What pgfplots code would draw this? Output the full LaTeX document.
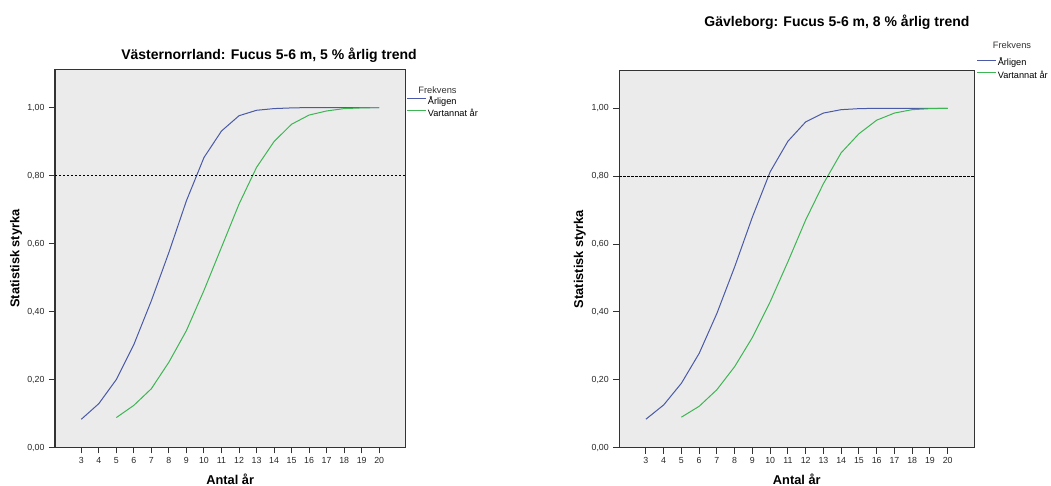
\documentclass[border=0pt]{standalone}
\usepackage{fontspec}
\setmainfont{Liberation Sans}
\usepackage{pgfplots}
\pgfplotsset{compat=1.18}

\definecolor{arlig}{HTML}{4A5AA8}
\definecolor{vartannat}{HTML}{3DB653}
\definecolor{plotbg}{HTML}{EBEBEB}
\definecolor{axisline}{HTML}{333333}

% Statistical power curves: Årligen (yearly) vs Vartannat år (every other year)
\pgfplotstableread{
n  arlig
3  0.083
4  0.129
5  0.200
6  0.303
7  0.432
8  0.574
9  0.726
10 0.853
11 0.931
12 0.976
13 0.992
14 0.997
15 0.999
16 1.000
17 1.000
18 1.000
19 1.000
20 1.000
}\vnArlig
\pgfplotstableread{
n  vart
5  0.088
6  0.124
7  0.173
8  0.251
9  0.344
10 0.462
11 0.589
12 0.716
13 0.824
14 0.900
15 0.951
16 0.978
17 0.990
18 0.997
19 0.999
20 1.000
}\vnVart
\pgfplotstableread{
n  arlig
3  0.084
4  0.126
5  0.190
6  0.278
7  0.396
8  0.533
9  0.680
10 0.813
11 0.903
12 0.960
13 0.986
14 0.996
15 0.999
16 1.000
17 1.000
18 1.000
19 1.000
20 1.000
}\gbArlig
\pgfplotstableread{
n  vart
5  0.090
6  0.122
7  0.171
8  0.239
9  0.325
10 0.430
11 0.548
12 0.671
13 0.778
14 0.869
15 0.925
16 0.965
17 0.986
18 0.996
19 0.999
20 1.000
}\gbVart

\pgfplotsset{
  powerplot/.style={
    scale only axis,
    xmin=1.5, xmax=21.5, ymin=0, ymax=1.112,
    xtick={3,...,20},
    ytick={0,0.2,0.4,0.6,0.8,1.0},
    tick align=outside, tick pos=left,
    major tick length=6bp,
    axis line style={axisline, line width=1.3bp},
    every tick/.style={axisline, line width=1bp},
    axis background/.style={fill=plotbg},
    /pgf/number format/assume math mode=true,
    ticklabel style={font=\fontsize{8.8bp}{10bp}\selectfont, text=black!85},
    xticklabel style={text height=6.4bp, text depth=0bp},
    yticklabel style={/pgf/number format/.cd, fixed, fixed zerofill, precision=2, use comma, /tikz/.cd, xshift=-1bp},
    xlabel={Antal år},
    ylabel={Statistisk styrka},
    label style={font=\bfseries\fontsize{12.8bp}{15bp}\selectfont},
    xlabel style={at={(axis description cs:0.5,0)}, anchor=base, yshift=-36.5bp},
    ylabel style={at={(axis description cs:-0.111,0.5)}, anchor=center},
    every axis title shift=0pt,
    title style={font=\bfseries\fontsize{14bp}{16bp}\selectfont, anchor=base},
    legend style={draw=none, fill=none, inner sep=0pt, outer sep=0pt,
      font=\fontsize{9.2bp}{11bp}\selectfont,
      row sep=3.4bp, column sep=1bp,
      nodes={inner sep=0pt, text height=6.6bp, text depth=2.2bp},
      anchor=north west},
    legend cell align=left,
    legend image code/.code={\draw[#1] (0bp,3.2bp) -- (19bp,3.2bp);},
  },
  curve/.style={line width=1bp, #1},
  refline/.style={black, line width=1bp, dash pattern=on 2.4bp off 1.6bp},
}

\begin{document}
\begin{tikzpicture}
\useasboundingbox (0,0) rectangle (1051bp,486bp);

% Västernorrland
\begin{axis}[powerplot,
  at={(55bp,38.5bp)}, anchor=south west,
  width=350.5bp, height=378bp,
  title={Västernorrland: Fucus 5-6 m, 5 \% årlig trend},
  title style={at={(axis description cs:0.6106,1.027)}},
  legend style={at={(axis description cs:1.004,0.926)}},
]
\addplot[curve=arlig] table[x=n, y=arlig] {\vnArlig};
\addlegendentry{Årligen}
\addplot[curve=vartannat] table[x=n, y=vart] {\vnVart};
\addlegendentry{Vartannat år}
\addplot[refline, forget plot] coordinates {(1.5,0.8) (21.5,0.8)};
\end{axis}

% Gävleborg
\begin{axis}[powerplot,
  at={(619.3bp,38.3bp)}, anchor=south west,
  width=355bp, height=377.4bp,
  title={Gävleborg: Fucus 5-6 m, 8 \% årlig trend},
  title style={at={(axis description cs:0.613,1.117)}},
  legend style={at={(axis description cs:1.007,1.029)}},
]
\addplot[curve=arlig] table[x=n, y=arlig] {\gbArlig};
\addlegendentry{Årligen}
\addplot[curve=vartannat] table[x=n, y=vart] {\gbVart};
\addlegendentry{Vartannat år}
\addplot[refline, forget plot] coordinates {(1.5,0.8) (21.5,0.8)};
\end{axis}

% legend headings
\node[anchor=base, font=\fontsize{9.3bp}{11bp}\selectfont, text=black!80] at (437.5bp,392bp) {Frekvens};
\node[anchor=base, font=\fontsize{9.3bp}{11bp}\selectfont, text=black!80] at (1012bp,437.5bp) {Frekvens};
\end{tikzpicture}
\end{document}
